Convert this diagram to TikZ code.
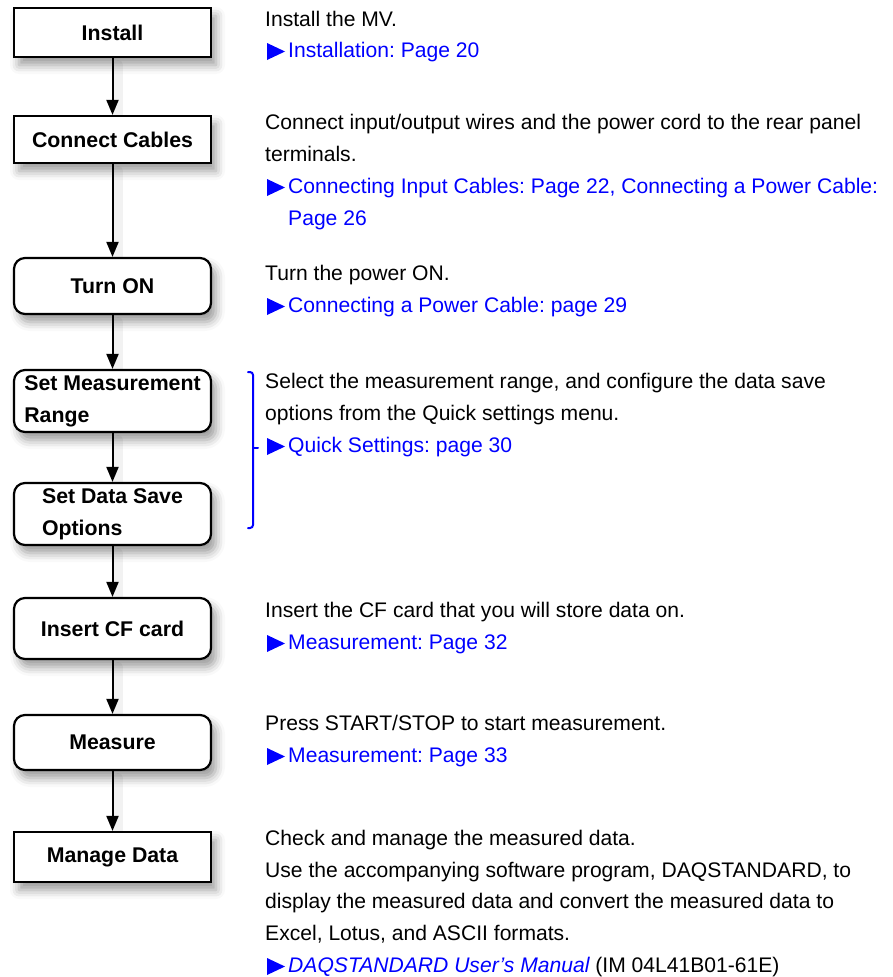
\documentclass[tikz,border=0pt]{standalone}
\usepackage{fontspec}
\setmainfont{Liberation Sans}
\usetikzlibrary{arrows.meta,shadows.blur}
\definecolor{linkblue}{RGB}{0,0,255}
\newcommand\linktri[1]{\fill[linkblue] (267,#1+3) -- (285,#1-5.5) -- (267,#1-14) -- cycle;}
\frenchspacing
\begin{document}
\begin{tikzpicture}[x=1pt,y=-1pt,
  box/.style={draw=black, line width=2.2pt, fill=white, minimum width=197pt, inner sep=3pt,
    font=\fontsize{21.3}{32}\selectfont\bfseries,
    blur shadow={shadow xshift=5pt, shadow yshift=-8pt, shadow blur radius=9pt, shadow opacity=40}},
  rbox/.style={box, rounded corners=11pt},
  txt/.style={anchor=base west, inner sep=0pt, font=\fontsize{21.1}{32}\selectfont},
  lnk/.style={txt, text=linkblue},
  arr/.style={line width=2pt, -{Triangle[length=15pt,width=12pt]}},
  ashadow/.style={line width=10pt, black, opacity=0.05, line cap=round},
]
\useasboundingbox (0,0) rectangle (893,977);

% arrow shadows
\foreach \a/\b in {57/116,163/258,314/370,432/483,545/598,659/715,770/832}{
  \draw[ashadow] (118,\a+8) -- (118,\b-2);
}

% boxes
\node[box, minimum height=49pt] (install) at (112.5,32.5) {Install};
\node[box, minimum height=47pt] (connect) at (112.5,139.5) {Connect Cables};
\node[rbox, minimum height=56pt] (turnon) at (112.5,286) {Turn ON};
\node[rbox, minimum height=62pt, align=left] (setmr) at (112.5,401) {Set Measurement\\Range};
\node[rbox, minimum height=62pt, align=left] (setds) at (112.5,514) {Set Data Save\\Options};
\node[rbox, minimum height=61pt] (insert) at (112.5,628.5) {Insert CF card};
\node[rbox, minimum height=55pt] (measure) at (112.5,742.5) {Measure};
\node[box, minimum height=50pt] (manage) at (112.5,857) {Manage Data};

% arrows
\draw[arr] (install) -- (connect);
\draw[arr] (connect) -- (turnon);
\draw[arr] (turnon) -- (setmr);
\draw[arr] (setmr) -- (setds);
\draw[arr] (setds) -- (insert);
\draw[arr] (insert) -- (measure);
\draw[arr] (measure) -- (manage);

% block 1
\node[txt] (t1a) at (265,27) {Install the MV.};
\linktri{57}
\node[lnk] (t1b) at (288,57) {Installation: Page 20};

% block 2
\node[txt] (t2a) at (265,129) {Connect input/output wires and the power cord to the rear panel};
\node[txt] (t2b) at (265,161) {terminals.};
\linktri{193}
\node[lnk] (t2c) at (288,193) {Connecting Input Cables: Page 22, Connecting a Power Cable:};
\node[lnk] (t2d) at (288,225) {Page 26};

% block 3
\node[txt] (t3a) at (265,280) {Turn the power ON.};
\linktri{312}
\node[lnk] (t3b) at (288,312) {Connecting a Power Cable: page 29};

% block 4
\node[txt] (t4a) at (265,388) {Select the measurement range, and configure the data save};
\node[txt] (t4b) at (265,420) {options from the Quick settings menu.};
\linktri{452}
\node[lnk] (t4c) at (288,452) {Quick Settings: page 30};

% bracket
\draw[linkblue, line width=2pt, line cap=round, rounded corners=3pt]
  (248,372) -- (253,372) -- (253,528) -- (248,528);
\draw[linkblue, line width=2pt, line cap=round] (253,447.5) -- (258,447.5);

% block 5
\node[txt] (t5a) at (265,617) {Insert the CF card that you will store data on.};
\linktri{649}
\node[lnk] (t5b) at (288,649) {Measurement: Page 32};

% block 6
\node[txt] (t6a) at (265,730) {Press START/STOP to start measurement.};
\linktri{762}
\node[lnk] (t6b) at (288,762) {Measurement: Page 33};

% block 7
\node[txt] (t7a) at (265,845) {Check and manage the measured data.};
\node[txt] (t7b) at (265,877) {Use the accompanying software program, DAQSTANDARD, to};
\node[txt] (t7c) at (265,908) {display the measured data and convert the measured data to};
\node[txt] (t7d) at (265,940) {Excel, Lotus, and ASCII formats.};
\linktri{972}
\node[txt] (t7e) at (288,972) {\textcolor{linkblue}{\itshape DAQSTANDARD User’s Manual} (IM 04L41B01-61E)};
\end{tikzpicture}
\end{document}
